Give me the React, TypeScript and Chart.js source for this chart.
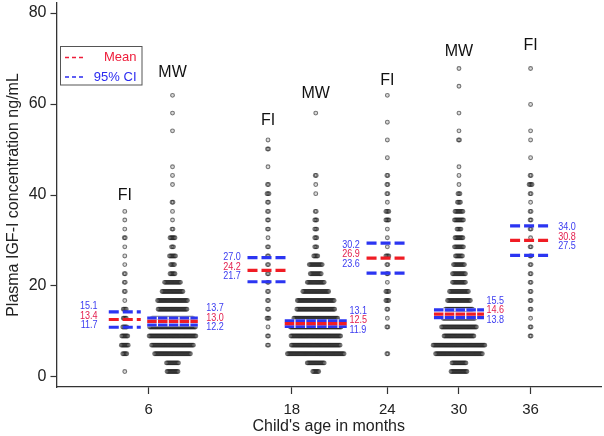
import React, { useEffect, useRef } from "react";
import { Chart, registerables } from "chart.js";

Chart.register(...registerables);

// ---------- data ----------
const groupNames = ["FI", "MW", "FI", "MW", "FI", "MW", "FI"];
const groupPositions = [0, 2, 6, 8, 11, 14, 17];
const xTickPositions = [1, 7, 11, 14, 17];
const xTickLabels = ["6", "18", "24", "30", "36"];
const yTickValues = [0, 20, 40, 60, 80];

// IGF-I levels of the dot rows (ng/mL)
const binLevels = [
  1.2, 3.1, 5.1, 7.0, 9.0, 11.0, 12.9, 14.9, 16.8, 18.8, 20.8, 22.7, 24.7, 26.6, 28.6, 30.6, 32.5, 34.5,
  36.4, 38.4, 40.3, 42.3, 44.3, 46.2, 48.2, 50.1, 52.1, 54.1, 56.0, 58.0, 59.9, 61.9, 63.9, 65.8, 67.8,
];

// number of children in each row (one list per group)
const counts6FI = [1, 0, 5, 8, 7, 5, 4, 4, 1, 2, 2, 2, 1, 1, 1, 2, 1, 1, 1, 0, 0, 0, 0, 0, 0, 0, 0, 0, 0, 0, 0, 0, 0, 0, 0];
const counts6MW = [12, 13, 37, 43, 48, 47, 42, 30, 31, 22, 17, 6, 5, 7, 3, 6, 2, 1, 1, 2, 0, 1, 1, 1, 0, 0, 0, 1, 0, 1, 0, 1, 0, 0, 0];
const counts18FI = [0, 0, 0, 2, 2, 1, 3, 2, 2, 2, 2, 2, 2, 2, 2, 1, 2, 2, 2, 2, 3, 2, 0, 1, 0, 2, 1, 0, 0, 0, 0, 0, 0, 0, 0];
const counts18MW = [7, 18, 58, 50, 51, 52, 45, 39, 38, 27, 18, 12, 14, 5, 3, 3, 3, 3, 2, 0, 1, 1, 2, 0, 0, 0, 0, 0, 0, 1, 0, 0, 0, 0, 0];
const counts24FI = [0, 0, 2, 0, 0, 2, 1, 2, 4, 4, 1, 2, 2, 4, 1, 1, 1, 4, 4, 1, 2, 2, 2, 0, 1, 0, 1, 0, 1, 0, 0, 1, 0, 0, 0];
const counts30MW = [17, 15, 48, 53, 31, 36, 33, 28, 24, 20, 14, 14, 12, 8, 10, 9, 5, 10, 9, 4, 3, 1, 1, 1, 0, 0, 2, 1, 0, 1, 0, 0, 1, 0, 1];
const counts36FI = [0, 0, 0, 0, 2, 2, 1, 2, 2, 2, 2, 2, 2, 2, 2, 1, 2, 2, 2, 1, 2, 4, 2, 0, 1, 0, 1, 1, 0, 0, 1, 0, 0, 0, 1];

const means = [13.4, 13.0, 24.2, 12.5, 26.9, 14.6, 30.8];
const ciLow = [11.7, 12.2, 21.7, 11.9, 23.6, 13.8, 27.5];
const ciHigh = [15.1, 13.7, 27.0, 13.1, 30.2, 15.5, 34.0];

const allCounts = [counts6FI, counts6MW, counts18FI, counts18MW, counts24FI, counts30MW, counts36FI];

// ---------- styles / layout ----------
const FONT = '"Liberation Sans", Arial, Helvetica, sans-serif';
const DOT_STEP = 1 / 24; // horizontal spacing between stacked dots (x units, ~1px)
const DOT_COLOR = "rgba(35,35,35,0.6)";
const DOT_FILL = "rgba(35,35,35,0.16)";
const LINE_BLUE = "#2b35f2";
const LINE_RED = "#f01c24";
const LABEL_BLUE = "#3b3bf0";
const LABEL_RED = "#e3204f";
const STYLE = {
  lineDrop: 3.5,
  lineHalfWidth: [16, 25.3, 20.5, 31, 20.8, 25, 20.5],
  labelSide: [-1, 1, -1, 1, -1, 1, 1],
  labelOffset: [27.2, 33.7, 27.2, 33.7, 27.6, 27.5, 27.7],
  groupLabelLevel: [39.9, 66.8, 56.3, 62.2, 65.1, 71.5, 72.8],
};

const overlayPlugin = {
  id: "overlay",
  afterDatasetsDraw(chart: any) {
    const { ctx } = chart;
    const xs = chart.scales.x;
    const ys = chart.scales.y;
    ctx.save();
    groupPositions.forEach((pos: number, g: number) => {
      const cx = xs.getPixelForValue(pos);
      const hw = STYLE.lineHalfWidth[g];
      const isMW = groupNames[g] === "MW";
      const drawLine = (v: number, color: string) => {
        const py = ys.getPixelForValue(v) + STYLE.lineDrop;
        ctx.lineWidth = 3.2;
        ctx.lineCap = "butt";
        if (isMW) {
          ctx.setLineDash([]);
          ctx.strokeStyle = "#ffffff";
          ctx.beginPath();
          ctx.moveTo(cx - hw, py);
          ctx.lineTo(cx + hw, py);
          ctx.stroke();
          ctx.setLineDash([9.5, 1.3]);
        } else {
          ctx.setLineDash([10, 4]);
        }
        ctx.strokeStyle = color;
        ctx.beginPath();
        ctx.moveTo(cx - hw, py);
        ctx.lineTo(cx + hw, py);
        ctx.stroke();
      };
      drawLine(ciHigh[g], LINE_BLUE);
      drawLine(ciLow[g], LINE_BLUE);
      drawLine(means[g], LINE_RED);
      ctx.setLineDash([]);

      // value labels
      const side = STYLE.labelSide[g];
      const lx = cx + side * STYLE.labelOffset[g];
      const mid = ys.getPixelForValue(means[g]);
      const items: [string, number, string][] = [
        [ciHigh[g].toFixed(1), mid - 9.5, LABEL_BLUE],
        [means[g].toFixed(1), mid, LABEL_RED],
        [ciLow[g].toFixed(1), mid + 9.5, LABEL_BLUE],
      ];
      ctx.font = `10.5px ${FONT}`;
      ctx.textBaseline = "middle";
      ctx.textAlign = side < 0 ? "right" : "left";
      items.forEach(([t, yy, c]) => {
        ctx.save();
        ctx.translate(lx, yy);
        ctx.scale(0.86, 1);
        ctx.fillStyle = c;
        ctx.fillText(t, 0, 0);
        ctx.restore();
      });

      // group name
      ctx.font = `16px ${FONT}`;
      ctx.textAlign = "center";
      ctx.textBaseline = "middle";
      ctx.fillStyle = "#111";
      ctx.fillText(groupNames[g], cx, ys.getPixelForValue(STYLE.groupLabelLevel[g]));
    });

    // legend box
    ctx.lineWidth = 1;
    ctx.strokeStyle = "#555";
    ctx.strokeRect(60.5, 46.5, 81.5, 38.5);
    const legendRow = (yy: number, color: string, text: string) => {
      ctx.setLineDash([4, 3]);
      ctx.lineWidth = 1.5;
      ctx.strokeStyle = color;
      ctx.beginPath();
      ctx.moveTo(65, yy);
      ctx.lineTo(83, yy);
      ctx.stroke();
      ctx.setLineDash([]);
      ctx.font = `13px ${FONT}`;
      ctx.textAlign = "right";
      ctx.textBaseline = "middle";
      ctx.fillStyle = color;
      ctx.fillText(text, 136.5, yy);
    };
    legendRow(57.5, "#ee1d3a", "Mean");
    legendRow(77, "#2a2af0", "95% CI");
    ctx.restore();
  },
};

export default function App() {
  const canvasRef = useRef<HTMLCanvasElement | null>(null);

  useEffect(() => {
    document.body.style.margin = "0";
    const canvas = canvasRef.current;
    if (!canvas) return;

    const datasets = allCounts.map((counts, g) => {
      const pts: { x: number; y: number }[] = [];
      counts.forEach((n, k) => {
        for (let i = 0; i < n; i++) {
          pts.push({ x: groupPositions[g] + (i - (n - 1) / 2) * DOT_STEP, y: binLevels[k] });
        }
      });
      return {
        label: groupNames[g],
        data: pts,
        showLine: false,
        pointRadius: 1.9,
        pointHoverRadius: 1.9,
        pointBorderWidth: 1.1,
        pointBorderColor: DOT_COLOR,
        pointBackgroundColor: DOT_FILL,
      };
    });

    const chart = new Chart(canvas, {
      type: "scatter",
      data: { datasets },
      options: {
        animation: false,
        responsive: false,
        devicePixelRatio: 1,
        events: [],
        layout: { padding: { top: 2, left: 0, right: 0, bottom: 0 } },
        font: { family: FONT },
        plugins: { legend: { display: false }, tooltip: { enabled: false } },
        scales: {
          x: {
            type: "linear",
            min: -2.86,
            max: 19.95,
            afterBuildTicks: (axis: any) => {
              axis.ticks = xTickPositions.map((v) => ({ value: v }));
            },
            afterFit: (axis: any) => {
              axis.height = 49;
              axis.paddingLeft = 0;
              axis.paddingRight = 0;
            },
            ticks: {
              autoSkip: false,
              maxRotation: 0,
              padding: 7,
              color: "#222",
              font: { size: 15, family: FONT },
              callback: (_v: any, i: number) => xTickLabels[i],
            },
            grid: { drawOnChartArea: false, drawTicks: true, tickLength: 7, tickColor: "#333", tickWidth: 1.2 },
            border: { display: true, color: "#333", width: 1.3 },
            title: {
              display: true,
              text: "Child's age in months",
              color: "#222",
              font: { size: 16, family: FONT },
              padding: { top: 0, bottom: 0 },
            },
          },
          y: {
            type: "linear",
            min: -2.2,
            max: 82.2,
            afterBuildTicks: (axis: any) => {
              axis.ticks = yTickValues.map((v) => ({ value: v }));
            },
            afterFit: (axis: any) => {
              axis.width = 56.5;
              axis.paddingTop = 0;
              axis.paddingBottom = 0;
            },
            ticks: {
              padding: 4,
              color: "#222",
              font: { size: 16, family: FONT },
              callback: (v: any) => String(v),
            },
            grid: { drawOnChartArea: false, drawTicks: true, tickLength: 6, tickColor: "#333", tickWidth: 1.2 },
            border: { display: true, color: "#333", width: 1.3 },
            title: {
              display: true,
              text: "Plasma IGF-I concentration ng/mL",
              color: "#222",
              font: { size: 16, family: FONT },
              padding: { top: 4.4, bottom: 0 },
            },
          },
        },
      },
      plugins: [overlayPlugin],
    } as any);

    return () => chart.destroy();
  }, []);

  return (
    <div style={{ width: 604, height: 436 }}>
      <canvas ref={canvasRef} width={604} height={436} style={{ display: "block" }} />
    </div>
  );
}
